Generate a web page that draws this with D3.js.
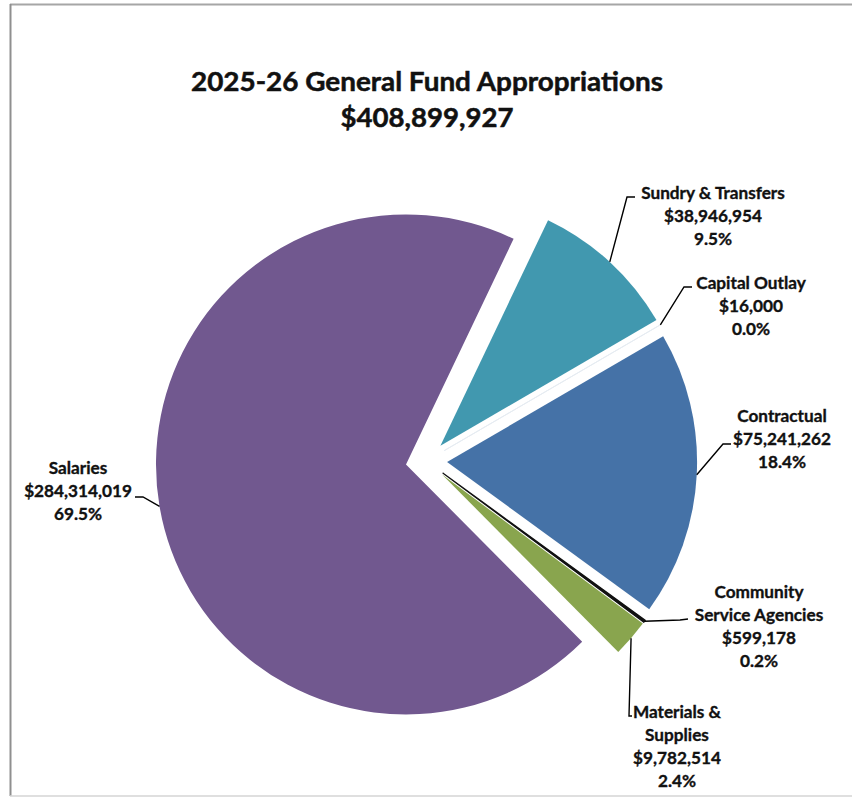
<!DOCTYPE html>
<html>
<head>
<meta charset="utf-8">
<script src="https://cdn.jsdelivr.net/npm/d3@7"></script>
<style>
  body { margin: 0; background: #fff; }
  svg { display: block; }
  text { font-family: Lato, "Open Sans", sans-serif; font-weight: 700; fill: #111; stroke: #111; stroke-width: 0.35px; }
</style>
</head>
<body>
<svg id="chart" width="852" height="797"></svg>
<script>
// Budget categories, clockwise from the first slice
const categories = ["Sundry & Transfers", "Capital Outlay", "Contractual",
  "Community Service Agencies", "Materials & Supplies", "Salaries"];
const amounts = [38946954, 16000, 75241262, 599178, 9782514, 284314019];
const shares = [9.5, 0.0, 18.4, 0.2, 2.4, 69.5];
const nameLines = [["Sundry & Transfers"], ["Capital Outlay"], ["Contractual"],
  ["Community", "Service Agencies"], ["Materials &", "Supplies"], ["Salaries"]];
const titleLines = ["2025-26 General Fund Appropriations", "$408,899,927"];

const colors = ["#4198AF", "#DB843D", "#4572A7", "#111111", "#89A54E", "#71588F"];

const svg = d3.select("#chart");
const W = 852, H = 797;

// frame of the chart area
svg.append("line").attr("x1", 10).attr("x2", W).attr("y1", 4.5).attr("y2", 4.5)
  .attr("stroke", "#a6a6a6").attr("stroke-width", 2);
svg.append("line").attr("x1", 10.5).attr("x2", 10.5).attr("y1", 4).attr("y2", 796)
  .attr("stroke", "#8f8f8f").attr("stroke-width", 2);
svg.append("line").attr("x1", 10).attr("x2", W).attr("y1", 796).attr("y2", 796)
  .attr("stroke", "#d4d4d4").attr("stroke-width", 1.5);

// title
const titleY = [91, 127];
const titleW = [472, 173];
svg.selectAll("text.title").data(titleLines).join("text")
  .attr("class", "title")
  .attr("x", 427).attr("y", (d, i) => titleY[i])
  .attr("text-anchor", "middle")
  .attr("font-size", 26.5)
  .style("stroke-width", "0.5px")
  .attr("textLength", (d, i) => titleW[i])
  .attr("lengthAdjust", "spacingAndGlyphs")
  .text(d => d);

// pie geometry
const cx = 426.4, cy = 461, R = 250, explode = 20.7;
const startAngle = 25.5 * Math.PI / 180;

const data = categories.map((c, i) => ({ name: c, amount: amounts[i], share: shares[i], lines: nameLines[i], color: colors[i] }));

const pie = d3.pie().sort(null).value(d => d.amount)
  .startAngle(startAngle).endAngle(startAngle + 2 * Math.PI);
const arc = d3.arc().innerRadius(0).outerRadius(R);
const arcs = pie(data);

const offset = a => {
  const m = (a.startAngle + a.endAngle) / 2;
  return [cx + explode * Math.sin(m), cy - explode * Math.cos(m)];
};

// the two tiny slices get an outline so they stay visible
const outline = { "Capital Outlay": ["#e6ecf2", 1], "Community Service Agencies": ["#111111", 1.3] };

const g = svg.append("g");
g.selectAll("path.slice").data(arcs).join("path")
  .attr("class", "slice")
  .attr("transform", a => `translate(${offset(a)})`)
  .attr("d", arc)
  .attr("fill", a => a.data.color)
  .attr("stroke", a => outline[a.data.name] ? outline[a.data.name][0] : "none")
  .attr("stroke-width", a => outline[a.data.name] ? outline[a.data.name][1] : 0)
  .attr("stroke-linejoin", "round");

// label placement: text centre, first baseline, leader elbow and end
const labelLayout = {
  "Sundry & Transfers":          { x: 713, y: 199, elbow: [627, 197], end: [635, 197] },
  "Capital Outlay":              { x: 751, y: 289, elbow: [684, 287], end: [692, 287] },
  "Contractual":                 { x: 782, y: 422, elbow: [723, 444], end: [731, 444] },
  "Community Service Agencies":  { x: 759, y: 598, elbow: [680, 620], end: [688, 619] },
  "Materials & Supplies":        { x: 677, y: 718, elbow: [629, 716], end: [632, 716] },
  "Salaries":                    { x: 78,  y: 474, elbow: [143, 497], end: [135, 497] }
};
const lineH = 23;
const money = d3.format("$,");

// leader lines start on the outer rim at the slice's mid-angle
g.selectAll("path.leader").data(arcs).join("path")
  .attr("class", "leader")
  .attr("fill", "none").attr("stroke", "#000").attr("stroke-width", 1.4)
  .attr("d", a => {
    const [ox, oy] = offset(a);
    const m = (a.startAngle + a.endAngle) / 2;
    const s = [ox + R * Math.sin(m), oy - R * Math.cos(m)];
    const L = labelLayout[a.data.name];
    return d3.line()([s, L.elbow, L.end]);
  });

const labels = svg.selectAll("text.label").data(arcs).join("text")
  .attr("class", "label")
  .attr("text-anchor", "middle")
  .attr("font-size", 17.2);
labels.each(function (a) {
  const L = labelLayout[a.data.name];
  const lines = a.data.lines.concat([money(a.data.amount), a.data.share.toFixed(1) + "%"]);
  d3.select(this).selectAll("tspan").data(lines).join("tspan")
    .attr("x", L.x).attr("y", (d, i) => L.y + i * lineH)
    .text(d => d);
});
</script>
</body>
</html>
